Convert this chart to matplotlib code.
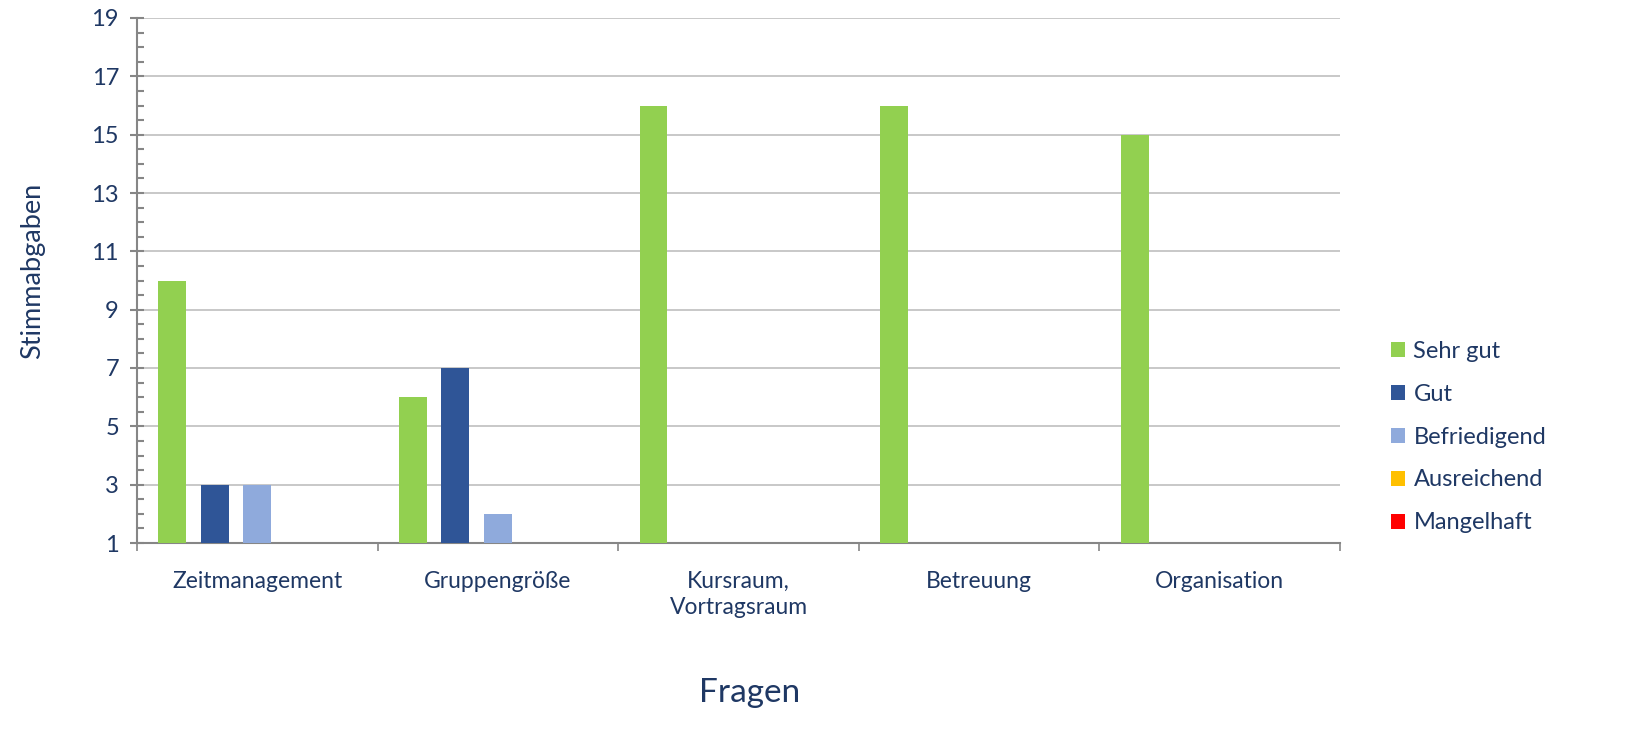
import matplotlib
matplotlib.use("Agg")
import matplotlib.pyplot as plt
import numpy as np
from matplotlib.ticker import MultipleLocator

categories = ["Zeitmanagement", "Gruppengröße", "Kursraum,\nVortragsraum", "Betreuung", "Organisation"]
series_names = ["Sehr gut", "Gut", "Befriedigend", "Ausreichend", "Mangelhaft"]
sehr_gut = [10, 6, 16, 16, 15]
gut = [3, 7, 0, 0, 0]
befriedigend = [3, 2, 0, 0, 0]
ausreichend = [0, 0, 0, 0, 0]
mangelhaft = [0, 0, 0, 0, 0]
colors = ["#92D050", "#2F5597", "#8FAADC", "#FFC000", "#FF0000"]

plt.rcParams['font.family'] = ['Lato', 'DejaVu Sans']
txt = "#1F3864"
axc = "#868686"

fig = plt.figure(figsize=(16.35, 7.44), dpi=100)
ax = fig.add_axes([137/1635, 1-543/744, (1340-137)/1635, (543-18)/744])

x = np.arange(len(categories))
step = 0.1767
width = 0.116
all_series = [sehr_gut, gut, befriedigend, ausreichend, mangelhaft]
for i, (name, vals) in enumerate(zip(series_names, all_series)):
    ax.bar(x + (i - 2) * step, vals, width=width, color=colors[i], label=name, zorder=3)

ax.set_xlim(-0.5, len(categories) - 0.5)
ax.set_ylim(1, 19)
ax.set_yticks(np.arange(1, 20, 2))
ax.yaxis.set_minor_locator(MultipleLocator(0.5))
ax.grid(axis='y', which='major', color="#BFBFBF", linewidth=1.2, zorder=0)

ax.set_xticks(np.arange(-0.5, len(categories), 1.0))
ax.set_xticklabels([])
ax.set_xticks(x, minor=True)
ax.set_xticklabels(categories, minor=True, linespacing=1.3)
ax.tick_params(axis='x', which='major', length=6, direction='out', color=axc, width=1.2)
ax.tick_params(axis='x', which='minor', length=0, pad=20, labelsize=16.5, labelcolor=txt)
ax.tick_params(axis='y', which='major', length=10, direction='inout', color=axc, width=1.5,
               labelsize=17, labelcolor=txt, pad=8)
ax.tick_params(axis='y', which='minor', length=5, direction='in', color=axc, width=1.5)

for s in ['top', 'right']:
    ax.spines[s].set_visible(False)
for s in ['left', 'bottom']:
    ax.spines[s].set_color(axc)
    ax.spines[s].set_linewidth(1.5)

fig.text(33/1635, 1-271/744, "Stimmabgaben", fontsize=19.5, color=txt, ha='center', va='center', rotation=90)
fig.text(750/1635, 1-693/744, "Fragen", fontsize=24, color=txt, ha='center', va='center')

leg = ax.legend(loc='center left', bbox_to_anchor=(1391/1635, 1-437/744), bbox_transform=fig.transFigure,
                frameon=False, fontsize=17, handlelength=0.6, handleheight=0.6,
                handletextpad=0.35, labelspacing=0.93, borderaxespad=0, borderpad=0)
for t in leg.get_texts():
    t.set_color(txt)

fig.savefig("out.png", dpi=100)
